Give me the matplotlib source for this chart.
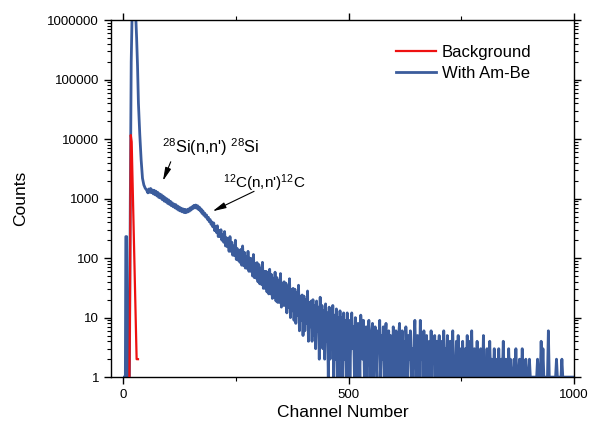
import numpy as np
import matplotlib.pyplot as plt
from matplotlib.ticker import FixedLocator, LogLocator, NullFormatter

plt.rcParams['font.family'] = ['Liberation Sans', 'DejaVu Sans']
plt.rcParams['mathtext.fontset'] = 'custom'
plt.rcParams['mathtext.rm'] = 'Liberation Sans'
plt.rcParams['mathtext.it'] = 'Liberation Sans'

# ---- background spectrum ----
bg_ch = [14, 15, 17, 19, 30, 33]
bg_counts = [1, 8, 11700, 9000, 2, 2]

# ---- Am-Be spectrum ----
head_ch = [3, 5, 6, 8, 10, 12, 14, 16, 18, 20, 22, 25, 28, 30, 32, 34, 37, 40, 43, 46, 49, 52]
head_counts = [1, 1, 230, 230, 1, 1, 1, 1000, 200000, 1300000, 1300000, 1300000, 1200000,
               500000, 170000, 40000, 12000, 4500, 2200, 1700, 1500, 1400]

plateau_ch = np.arange(55, 200, 2)
plateau_counts = [1250, 1450, 1280, 1480, 1260, 1400, 1200, 1380, 1160, 1330,
                  1110, 1270, 1050, 1200, 1020, 1160, 960, 1100, 910, 1040,
                  880, 990, 830, 950, 800, 900, 760, 850, 730, 810,
                  700, 790, 670, 750, 640, 720, 620, 690, 600, 670,
                  585, 660, 580, 650, 595, 670, 615, 700, 645, 730,
                  680, 770, 700, 780, 690, 760, 660, 720, 620, 670,
                  565, 620, 525, 570, 490, 530, 450, 485, 410, 445,
                  370, 405, 335]

decay_ch = np.arange(201, 500, 2)
decay_counts = [390, 290, 340, 270, 350, 230, 290, 230, 300, 200,
                250, 185, 280, 160, 220, 155, 215, 130, 230, 130,
                185, 112, 160, 110, 200, 95, 145, 92, 135, 85,
                140, 76, 160, 75, 125, 68, 105, 67, 130, 60,
                100, 60, 98, 50, 115, 47, 82, 46, 84, 40,
                78, 37, 68, 36, 85, 31, 60, 31, 60, 27,
                58, 25, 65, 25, 53, 21, 46, 22, 58, 19,
                47, 18, 42, 18, 55, 15, 38, 16, 40, 16,
                38, 12, 34, 15, 45, 10, 30, 13, 31, 9,
                30, 8, 26, 11, 35, 6, 23, 9, 24, 5,
                23, 6, 20, 8, 28, 4, 18, 7, 19, 4,
                20, 5, 16, 3, 19, 6, 15, 2, 22, 4,
                16, 3, 13, 2, 17, 4, 12, 1, 15, 2,
                14, 3, 16, 1, 11, 2, 14, 1, 10, 1,
                13, 2, 10, 1, 12, 2, 9, 1, 12, 1]

tail_ch = np.arange(501, 1000, 2)
tail_counts = [9, 1, 5, 12, 3, 7, 1, 10, 4, 1, 8, 5, 1, 11, 6, 2, 9, 1, 4, 7, 1, 6, 9, 3, 1,
               5, 8, 1, 4, 7, 2, 1, 6, 3, 9, 1, 5, 2, 7, 1, 4, 8, 1, 3, 6, 1, 5, 2, 1, 7,
               4, 1, 6, 3, 1, 5, 8, 1, 2, 6, 1, 4, 1, 7, 3, 1, 5, 2, 6, 1, 3, 1, 4, 9, 2,
               1, 5, 3, 1, 9, 2, 4, 1, 6, 1, 3, 5, 1, 2, 4, 1, 6, 1, 3, 2, 5, 1, 4, 1, 3,
               5, 1, 2, 4, 1, 6, 1, 3, 1, 5, 2, 1, 4, 1, 3, 6, 1, 2, 1, 4, 1, 5, 1, 3, 1,
               2, 4, 1, 1, 3, 1, 5, 2, 1, 4, 1, 6, 1, 2, 3, 1, 1, 4, 1, 2, 1, 3, 1, 1, 5,
               1, 2, 1, 3, 1, 1, 4, 1, 2, 1, 1, 3, 1, 2, 1, 1, 3, 1, 1, 2, 1, 4, 1, 1, 2,
               1, 1, 3, 1, 2, 1, 1, 1, 2, 1, 3, 1, 1, 1, 2, 1, 1, 3, 1, 1, 1, 2, 1, 1, 1,
               2, 1, 1, 1, 1, 1, 1, 1, 1, 2, 1, 1, 1, 4, 1, 3, 1, 1, 1, 1, 1, 6, 1, 1, 1,
               1, 1, 1, 1, 1, 2, 1, 1, 1, 1, 1, 2, 1, 1, 1, 1, 1, 1, 1, 1, 1, 1, 1, 1, 1]

ambe_ch = np.concatenate([head_ch, plateau_ch, decay_ch, tail_ch])
ambe_counts = np.concatenate([head_counts, plateau_counts, decay_counts, tail_counts])

yticks = [1, 10, 100, 1000, 10000, 100000, 1000000]

#==============================
fig = plt.figure(figsize=(5.9, 4.29), dpi=100)
ax = fig.add_axes([0.188, 0.121, 0.785, 0.832])

ax.plot(ambe_ch, ambe_counts, color='#3b5c9c', lw=2.0, label='With Am-Be', zorder=2)
ax.plot(bg_ch, bg_counts, color='#ee1111', lw=1.6, label='Background', zorder=3)

ax.set_yscale('log')
ax.set_ylim(1, 1000000)
ax.set_xlim(-27, 1000)

ax.xaxis.set_major_locator(FixedLocator([0, 500, 1000]))
ax.xaxis.set_minor_locator(FixedLocator([250, 750]))
ax.yaxis.set_major_locator(FixedLocator(yticks))
ax.set_yticklabels([str(v) for v in yticks])
ax.yaxis.set_minor_locator(LogLocator(base=10, subs=np.arange(2, 10), numticks=20))
ax.yaxis.set_minor_formatter(NullFormatter())

ax.tick_params(which='both', direction='out', top=True, right=True, labelsize=9.5)
ax.tick_params(which='major', length=5, width=1)
ax.tick_params(which='minor', length=3, width=0.8)
for s in ax.spines.values():
    s.set_linewidth(1)

ax.set_xlabel('Channel Number', fontsize=12.5, labelpad=3)
ax.set_ylabel('Counts', fontsize=12.5, labelpad=14)

ax.annotate('', xy=(86, 1800), xytext=(108, 4600),
            arrowprops=dict(arrowstyle='-|>,head_width=0.18,head_length=0.8', color='black', lw=0.8))
ax.text(86, 5800, r"$^{28}$Si(n,n') $^{28}$Si", fontsize=11.7, va='baseline', ha='left')

ax.annotate('', xy=(193, 586), xytext=(296, 1390),
            arrowprops=dict(arrowstyle='-|>,head_width=0.18,head_length=0.8', color='black', lw=0.8))
ax.text(221, 1500, r"$^{12}$C(n,n')$^{12}$C", fontsize=11, va='baseline', ha='left')

handles, labels = ax.get_legend_handles_labels()
ax.legend(handles[::-1], labels[::-1], loc='upper left', bbox_to_anchor=(0.615, 0.93),
          frameon=False, fontsize=12, handlelength=2.4, handletextpad=0.35,
          labelspacing=0.37, borderpad=0, borderaxespad=0)

fig.savefig('out.png', dpi=100)
